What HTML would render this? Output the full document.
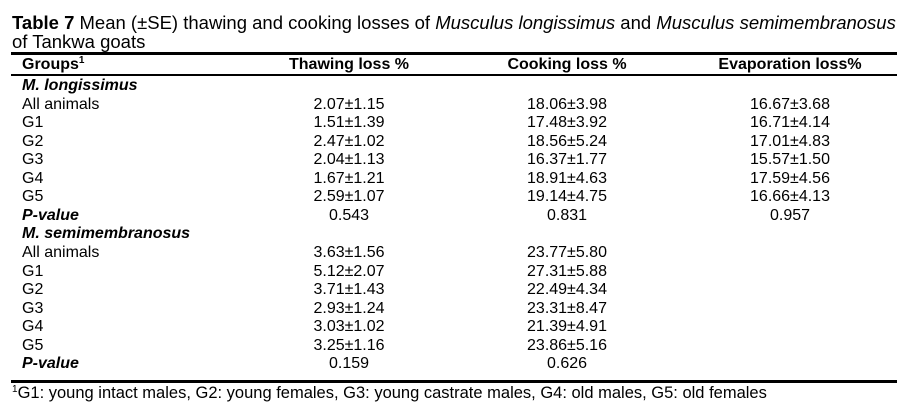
<!DOCTYPE html>
<html><head><meta charset="utf-8"><style>
body{margin:0;width:903px;height:415px;background:#fff;font-family:"Liberation Sans",Arial,sans-serif;color:#000;position:relative;overflow:hidden}
.t{position:absolute;white-space:nowrap}
.title{left:12px;font-size:18.5px;line-height:19px}
.rule{position:absolute;left:11px;width:886px;background:#000}
.row{position:absolute;left:0;width:903px;height:18px;font-size:16px;line-height:18px;white-space:nowrap}
.row span{position:absolute;top:0;white-space:nowrap}
sup{line-height:0;vertical-align:6px}
.g{left:22px}
.c1{left:349px;transform:translateX(-50%)}
.c2{left:567px;transform:translateX(-50%)}
.c3{left:790px;transform:translateX(-50%)}
.bi{font-weight:bold;font-style:italic}
.h{font-weight:bold}
</style></head><body>
<div class="t title" style="top:13px"><b>Table 7</b> Mean (±SE) thawing and cooking losses of <i>Musculus longissimus</i> and <i>Musculus semimembranosus</i></div>
<div class="t title" style="top:32px">of Tankwa goats</div>
<div class="rule" style="top:52px;height:3px"></div>
<div class="row h" style="top:56px"><span class="g">Groups<sup style="font-size:10px">1</sup></span><span class="c1">Thawing loss %</span><span class="c2">Cooking loss %</span><span class="c3">Evaporation loss%</span></div>
<div class="rule" style="top:74px;height:2px"></div>
<div id="body"></div>
<div class="rule" style="top:380px;height:3px"></div>
<div class="t" style="left:12px;top:384px;font-size:16.5px"><sup style="font-size:10px">1</sup>G1: young intact males, G2: young females, G3: young castrate males, G4: old males, G5: old females</div>
<script>
const groups=["M. longissimus","All animals","G1","G2","G3","G4","G5","P-value","M. semimembranosus","All animals","G1","G2","G3","G4","G5","P-value"];
const thawing=["","2.07±1.15","1.51±1.39","2.47±1.02","2.04±1.13","1.67±1.21","2.59±1.07","0.543","","3.63±1.56","5.12±2.07","3.71±1.43","2.93±1.24","3.03±1.02","3.25±1.16","0.159"];
const cooking=["","18.06±3.98","17.48±3.92","18.56±5.24","16.37±1.77","18.91±4.63","19.14±4.75","0.831","","23.77±5.80","27.31±5.88","22.49±4.34","23.31±8.47","21.39±4.91","23.86±5.16","0.626"];
const evap=["","16.67±3.68","16.71±4.14","17.01±4.83","15.57±1.50","17.59±4.56","16.66±4.13","0.957","","","","","","","",""];
const body=document.getElementById('body');
groups.forEach((g,i)=>{
  const r=document.createElement('div');
  r.className='row';
  r.style.top=(77+i*18.55)+'px';
  
  
  const bold=(g.startsWith('M.')||g==='P-value');
  const cells=[[g,'g'+(bold?' bi':'')],[thawing[i],'c1'],[cooking[i],'c2'],[evap[i],'c3']];
  cells.forEach(([txt,cls])=>{
    const s=document.createElement('span');
    s.className=cls;s.textContent=txt;
    
    
    r.appendChild(s);
  });
  body.appendChild(r);
});
</script>
</body></html>
